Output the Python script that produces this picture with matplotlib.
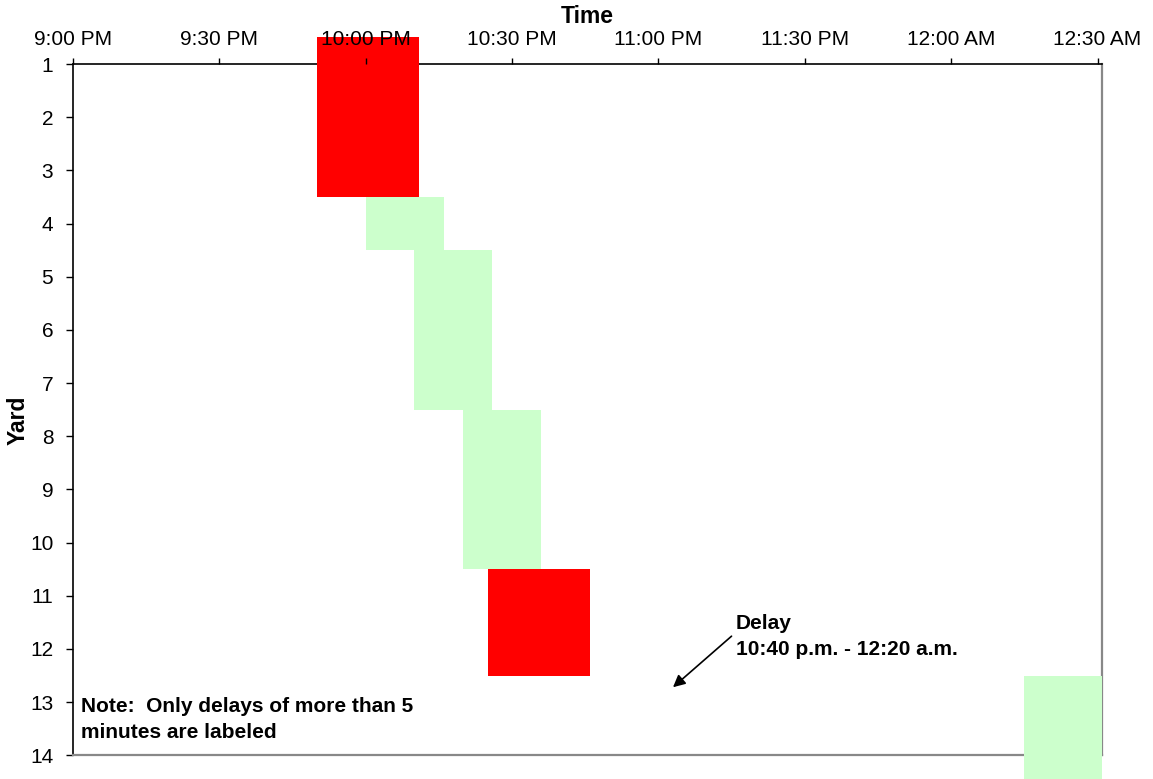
import matplotlib
matplotlib.use("Agg")
import matplotlib.pyplot as plt

plt.rcParams['font.family'] = ['Liberation Sans', 'DejaVu Sans']

# ---- data ----
yards = list(range(1, 15))
start_times = ["21:50", "21:50", "21:50", "22:00", "22:10", "22:10", "22:10",
               "22:20", "22:20", "22:20", "22:25", "22:25", "00:15", "00:15"]
end_times = ["22:11", "22:11", "22:11", "22:16", "22:26", "22:26", "22:26",
             "22:36", "22:36", "22:36", "22:46", "22:46", "00:31", "00:31"]
is_delay = [True, True, True, False, False, False, False,
            False, False, False, True, True, False, False]
tick_labels = ["9:00 PM", "9:30 PM", "10:00 PM", "10:30 PM", "11:00 PM",
               "11:30 PM", "12:00 AM", "12:30 AM"]
tick_minutes = [0, 30, 60, 90, 120, 150, 180, 210]
delay_note = "Delay\n10:40 p.m. - 12:20 a.m."
note_text = "Note:  Only delays of more than 5\nminutes are labeled"


def to_min(s):
    h, m = map(int, s.split(":"))
    if h < 12:
        h += 24
    return (h - 21) * 60 + m


starts = [to_min(s) for s in start_times]
durs = [to_min(e) - to_min(s) for s, e in zip(start_times, end_times)]
colors = ["#FF0000" if d else "#CCFFCC" for d in is_delay]

fig = plt.figure(figsize=(11.53, 7.79), dpi=100)
ax = fig.add_axes([72.7 / 1153, 23.7 / 779, (1102 - 72.7) / 1153, 691.3 / 779])

ax.barh(yards, durs, left=starts, height=1.0, color=colors, linewidth=0,
        clip_on=False, zorder=3)

ax.set_xlim(0, 210.9)
ax.set_ylim(14, 1)

ax.xaxis.tick_top()
ax.xaxis.set_label_position('top')
ax.set_xticks(tick_minutes)
ax.set_xticklabels(tick_labels, fontsize=15)
ax.set_yticks(yards)
ax.set_yticklabels([str(y) for y in yards], fontsize=15)
ax.tick_params(axis='x', length=4, width=1, pad=7, direction='out')
ax.tick_params(axis='y', length=5, width=1, pad=9, direction='out')
ax.xaxis.set_zorder(4)

ax.set_xlabel("Time", fontsize=16.5, fontweight='bold')
ax.xaxis.set_label_coords(0.5, (755.3 - 16) / 691.3)
ax.set_ylabel("Yard", fontsize=16.5, fontweight='bold')
ax.yaxis.set_label_coords((18 - 72.7) / 1029.3, (755.3 - 420) / 691.3)
ax.yaxis.label.set_va('center')
ax.xaxis.label.set_va('center')

for side in ['top', 'left']:
    ax.spines[side].set_color('black')
    ax.spines[side].set_linewidth(1.2)
for side in ['right', 'bottom']:
    ax.spines[side].set_color('#888888')
    ax.spines[side].set_linewidth(1.6)
for s in ax.spines.values():
    s.set_zorder(2)

ax.annotate(delay_note, xy=(123.0, 12.72), xytext=(135.9, 11.76),
            fontsize=15, fontweight='bold', ha='left', va='center',
            linespacing=1.45,
            arrowprops=dict(arrowstyle='-|>', color='black', lw=1.2,
                            mutation_scale=18, shrinkA=0, shrinkB=0,
                            relpos=(-0.02, 0.5)))

ax.text(1.7, 13.32, note_text, fontsize=15, fontweight='bold', ha='left',
        va='center', linespacing=1.45, zorder=5)

fig.savefig("out.png", dpi=100)
